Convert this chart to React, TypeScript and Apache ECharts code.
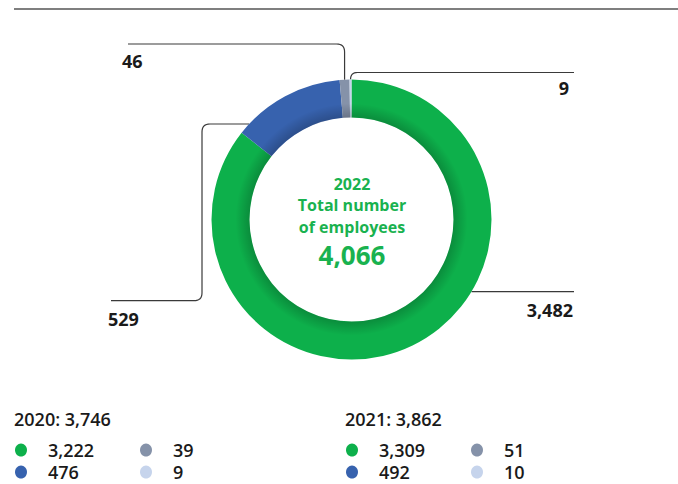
import React, { useEffect, useRef } from "react";
import * as echarts from "echarts";

const segments = ["Segment 1", "Segment 2", "Segment 3", "Segment 4"];
const values2022 = [3482, 529, 46, 9];
const values2020 = [3222, 476, 39, 9];
const values2021 = [3309, 492, 51, 10];
const colors = ["#0db04b", "#3762ae", "#8592a9", "#c6d4ec"];
const centerLines = ["2022", "Total number", "of employees"];
const legendYears = ["2020", "2021"];

const FONT = "'Open Sans', 'Noto Sans', sans-serif";
const CX = 351.5;
const CY = 219.5;
const R_OUT = 140;
const R_IN = 102;

const fmt = (n: number) => n.toLocaleString("en-US");
const sum = (a: number[]) => a.reduce((s, v) => s + v, 0);

// build rounded-corner polyline points
function rounded(points: number[][], r: number): number[][] {
  const out: number[][] = [points[0]];
  for (let i = 1; i < points.length - 1; i++) {
    const p0 = points[i - 1];
    const p1 = points[i];
    const p2 = points[i + 1];
    const d1x = p0[0] - p1[0], d1y = p0[1] - p1[1];
    const d2x = p2[0] - p1[0], d2y = p2[1] - p1[1];
    const l1 = Math.hypot(d1x, d1y), l2 = Math.hypot(d2x, d2y);
    const a = [p1[0] + (d1x / l1) * r, p1[1] + (d1y / l1) * r];
    const b = [p1[0] + (d2x / l2) * r, p1[1] + (d2y / l2) * r];
    const N = 8;
    for (let k = 0; k <= N; k++) {
      const t = k / N;
      const x = (1 - t) * (1 - t) * a[0] + 2 * (1 - t) * t * p1[0] + t * t * b[0];
      const y = (1 - t) * (1 - t) * a[1] + 2 * (1 - t) * t * p1[1] + t * t * b[1];
      out.push([x, y]);
    }
  }
  out.push(points[points.length - 1]);
  return out;
}

export default function App() {
  const ref = useRef<HTMLDivElement>(null);

  useEffect(() => {
    document.body.style.margin = "0";
    const chart = echarts.init(ref.current!, null, { renderer: "svg" });
    const total = sum(values2022);

    // slice mid x positions (clockwise from top)
    const midX: number[] = [];
    let acc = 0;
    values2022.forEach((v) => {
      const mid = (acc + v / 2) / total;
      acc += v;
      const ang = mid * Math.PI * 2;
      midX.push(CX + R_OUT * Math.sin(ang));
    });
    const ringTopY = (x: number) => CY - Math.sqrt(R_OUT * R_OUT - (x - CX) * (x - CX));
    const ringX = (y: number, side: number) => CX + side * Math.sqrt(R_OUT * R_OUT - (y - CY) * (y - CY));

    const lineStyle = { stroke: "#3a3a3a", lineWidth: 1.2, fill: null as any };
    const labelFont = `700 18px ${FONT}`;

    const leaders = [
      rounded([[ringX(291.7, 1), 291.7], [574, 291.7]], 7),
      rounded([[ringX(124, -1), 124], [202, 124], [202, 300.7], [111, 300.7]], 8),
      rounded([[midX[2], ringTopY(midX[2])], [midX[2], 44], [128, 44]], 8),
      rounded([[midX[3], ringTopY(midX[3])], [midX[3], 72.5], [574, 72.5]], 7),
    ];
    const labelPos = [
      { x: 573, y: 309.5, align: "right" },
      { x: 108, y: 319, align: "left" },
      { x: 122, y: 61.3, align: "left" },
      { x: 569, y: 87.5, align: "right" },
    ];

    const graphics: any[] = [
      {
        type: "line",
        shape: { x1: 14, y1: 9, x2: 678, y2: 9 },
        style: { stroke: "#555", lineWidth: 1.5 },
      },
    ];
    leaders.forEach((pts) => {
      graphics.push({ type: "polyline", shape: { points: pts }, style: lineStyle, silent: true });
    });
    values2022.forEach((v, i) => {
      graphics.push({
        type: "text",
        x: labelPos[i].x,
        y: labelPos[i].y,
        style: {
          text: fmt(v),
          font: labelFont,
          fill: "#1a1a1a",
          textAlign: labelPos[i].align,
          textVerticalAlign: "middle",
        },
      });
    });

    // center text
    const centerYs = [184, 204.5, 226.5];
    centerLines.forEach((t, i) => {
      graphics.push({
        type: "text",
        x: 352,
        y: centerYs[i],
        style: {
          text: t,
          font: `700 16px ${FONT}`,
          fill: "#19b24f",
          textAlign: "center",
          textVerticalAlign: "middle",
        },
      });
    });
    graphics.push({
      type: "text",
      x: 352,
      y: 254.5,
      style: {
        text: fmt(total),
        font: `700 26px ${FONT}`,
        fill: "#19b24f",
        textAlign: "center",
        textVerticalAlign: "middle",
      },
    });

    // legends
    const legendSets = [values2020, values2021];
    const blockX = [14, 345];
    legendSets.forEach((vals, bi) => {
      const bx = blockX[bi];
      graphics.push({
        type: "text",
        x: bx,
        y: 418.7,
        style: {
          text: `${legendYears[bi]}: ${fmt(sum(vals))}`,
          font: `600 18px ${FONT}`,
          fill: "#1a1a1a",
          textAlign: "left",
          textVerticalAlign: "middle",
        },
      });
      vals.forEach((v, i) => {
        const col = Math.floor(i / 2);
        const row = i % 2;
        const dotX = bx + 7 + col * 125;
        const y = 450 + row * 22;
        graphics.push({
          type: "ellipse",
          shape: { cx: dotX, cy: y, rx: 6, ry: 6.6 },
          style: { fill: colors[i] },
        });
        graphics.push({
          type: "text",
          x: dotX + 27,
          y: y,
          style: {
            text: fmt(v),
            font: `600 18px ${FONT}`,
            fill: "#1a1a1a",
            textAlign: "left",
            textVerticalAlign: "middle",
          },
        });
      });
    });

    chart.setOption({
      animation: false,
      series: [
        {
          type: "pie",
          center: [CX, CY],
          radius: [R_IN, R_OUT],
          startAngle: 90,
          clockwise: true,
          label: { show: false },
          labelLine: { show: false },
          silent: true,
          itemStyle: { borderWidth: 0 },
          data: values2022.map((v, i) => ({
            name: segments[i],
            value: v,
            itemStyle: { color: colors[i] },
          })),
        },
        {
          type: "pie",
          center: [CX, CY],
          radius: [R_IN, R_IN + 14],
          label: { show: false },
          labelLine: { show: false },
          silent: true,
          z: 3,
          data: [
            {
              value: 1,
              itemStyle: {
                color: {
                  type: "radial",
                  x: 0.5,
                  y: 0.5,
                  r: 0.5,
                  colorStops: [
                    { offset: 0, color: "rgba(0,0,0,0.2)" },
                    { offset: R_IN / (R_IN + 14), color: "rgba(0,0,0,0.2)" },
                    { offset: 1, color: "rgba(0,0,0,0)" },
                  ],
                },
              },
            },
          ],
        },
      ],
      graphic: graphics,
    });
    return () => chart.dispose();
  }, []);

  return <div ref={ref} style={{ width: 678, height: 484 }} />;
}
